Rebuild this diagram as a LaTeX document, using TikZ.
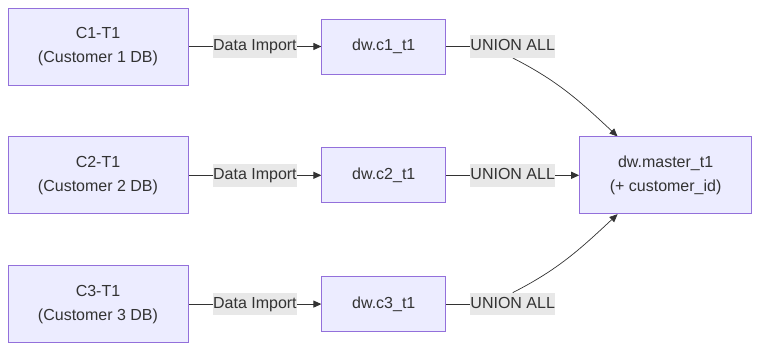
\documentclass[tikz,border=0pt]{standalone}
\usepackage{fontspec}
\setmainfont{Liberation Sans}
\usepackage{xcolor}
\usepackage{tikz}
\usetikzlibrary{positioning,calc,arrows.meta,backgrounds}
\definecolor{mmdfill}{RGB}{236,236,255}
\definecolor{mmdborder}{RGB}{147,112,219}
\definecolor{mmdtext}{RGB}{51,51,51}
\definecolor{mmdline}{RGB}{51,51,51}
\definecolor{mmdlabel}{RGB}{232,232,232}

\begin{document}
\begin{tikzpicture}[
      x=1pt, y=1pt,
      node distance=51pt and 133pt,
      tbl/.style={rectangle, draw=mmdborder, fill=mmdfill, line width=0.8pt,
        align=center, text=mmdtext, font=\fontsize{16}{24}\selectfont},
      srcbox/.style={tbl, minimum width=180pt, minimum height=77pt},
      dwbox/.style={tbl, minimum width=124pt, minimum height=55pt},
      masterbox/.style={tbl, minimum width=172pt, minimum height=77pt},
      edgelbl/.style={fill=mmdlabel, text=mmdtext, inner xsep=0pt, inner ysep=3.5pt,
        text height=12pt, text depth=3.5pt, font=\fontsize{16}{19}\selectfont},
      link/.style={draw=mmdline, line width=1pt},
      arrow/.style={link, -{Triangle[length=8pt, width=7pt]}},
      curvearrow/.style={arrow, line width=0.7pt}
    ]
    \useasboundingbox (0,0) rectangle (758,350);

    % source tables
    \node[srcbox] (c1) at (98,303.5) {C1-T1\\(Customer 1 DB)};
    \node[srcbox, below=of c1] (c2) {C2-T1\\(Customer 2 DB)};
    \node[srcbox, below=of c2] (c3) {C3-T1\\(Customer 3 DB)};

    % warehouse copies
    \node[dwbox, right=of c1] (dc1) {dw.c1\_t1};
    \node[dwbox, right=of c2] (dc2) {dw.c2\_t1};
    \node[dwbox, right=of c3] (dc3) {dw.c3\_t1};

    \node[masterbox, right=of dc2] (master) {dw.master\_t1\\(+ customer\_id)};

    % edge labels
    \node[edgelbl] (imp1) at ($(c1.east)!0.5!(dc1.west)$) {Data Import};
    \node[edgelbl] (imp2) at ($(c2.east)!0.5!(dc2.west)$) {Data Import};
    \node[edgelbl] (imp3) at ($(c3.east)!0.5!(dc3.west)$) {Data Import};
    \node[edgelbl] (uni2) at ($(dc2.east)!0.5!(master.west)$) {UNION ALL};
    \node[edgelbl] (uni1) at (uni2 |- dc1) {UNION ALL};
    \node[edgelbl] (uni3) at (uni2 |- dc3) {UNION ALL};

    \begin{scope}[on background layer]
      \draw[link] (c1.east) -- (imp1.center);
      \draw[arrow] (imp1.center) -- (dc1.west);
      \draw[link] (c2.east) -- (imp2.center);
      \draw[arrow] (imp2.center) -- (dc2.west);
      \draw[link] (c3.east) -- (imp3.center);
      \draw[arrow] (imp3.center) -- (dc3.west);

      \draw[link] (dc1.east) -- (uni1.center);
      \draw[curvearrow] (uni1.south) to[out=-27, in=137] (master.141);
      \draw[link] (dc2.east) -- (uni2.center);
      \draw[arrow] (uni2.center) -- (master.west);
      \draw[link] (dc3.east) -- (uni3.center);
      \draw[curvearrow] (uni3.north) to[out=27, in=-137] (master.-141);
    \end{scope}
  \end{tikzpicture}
\end{document}
